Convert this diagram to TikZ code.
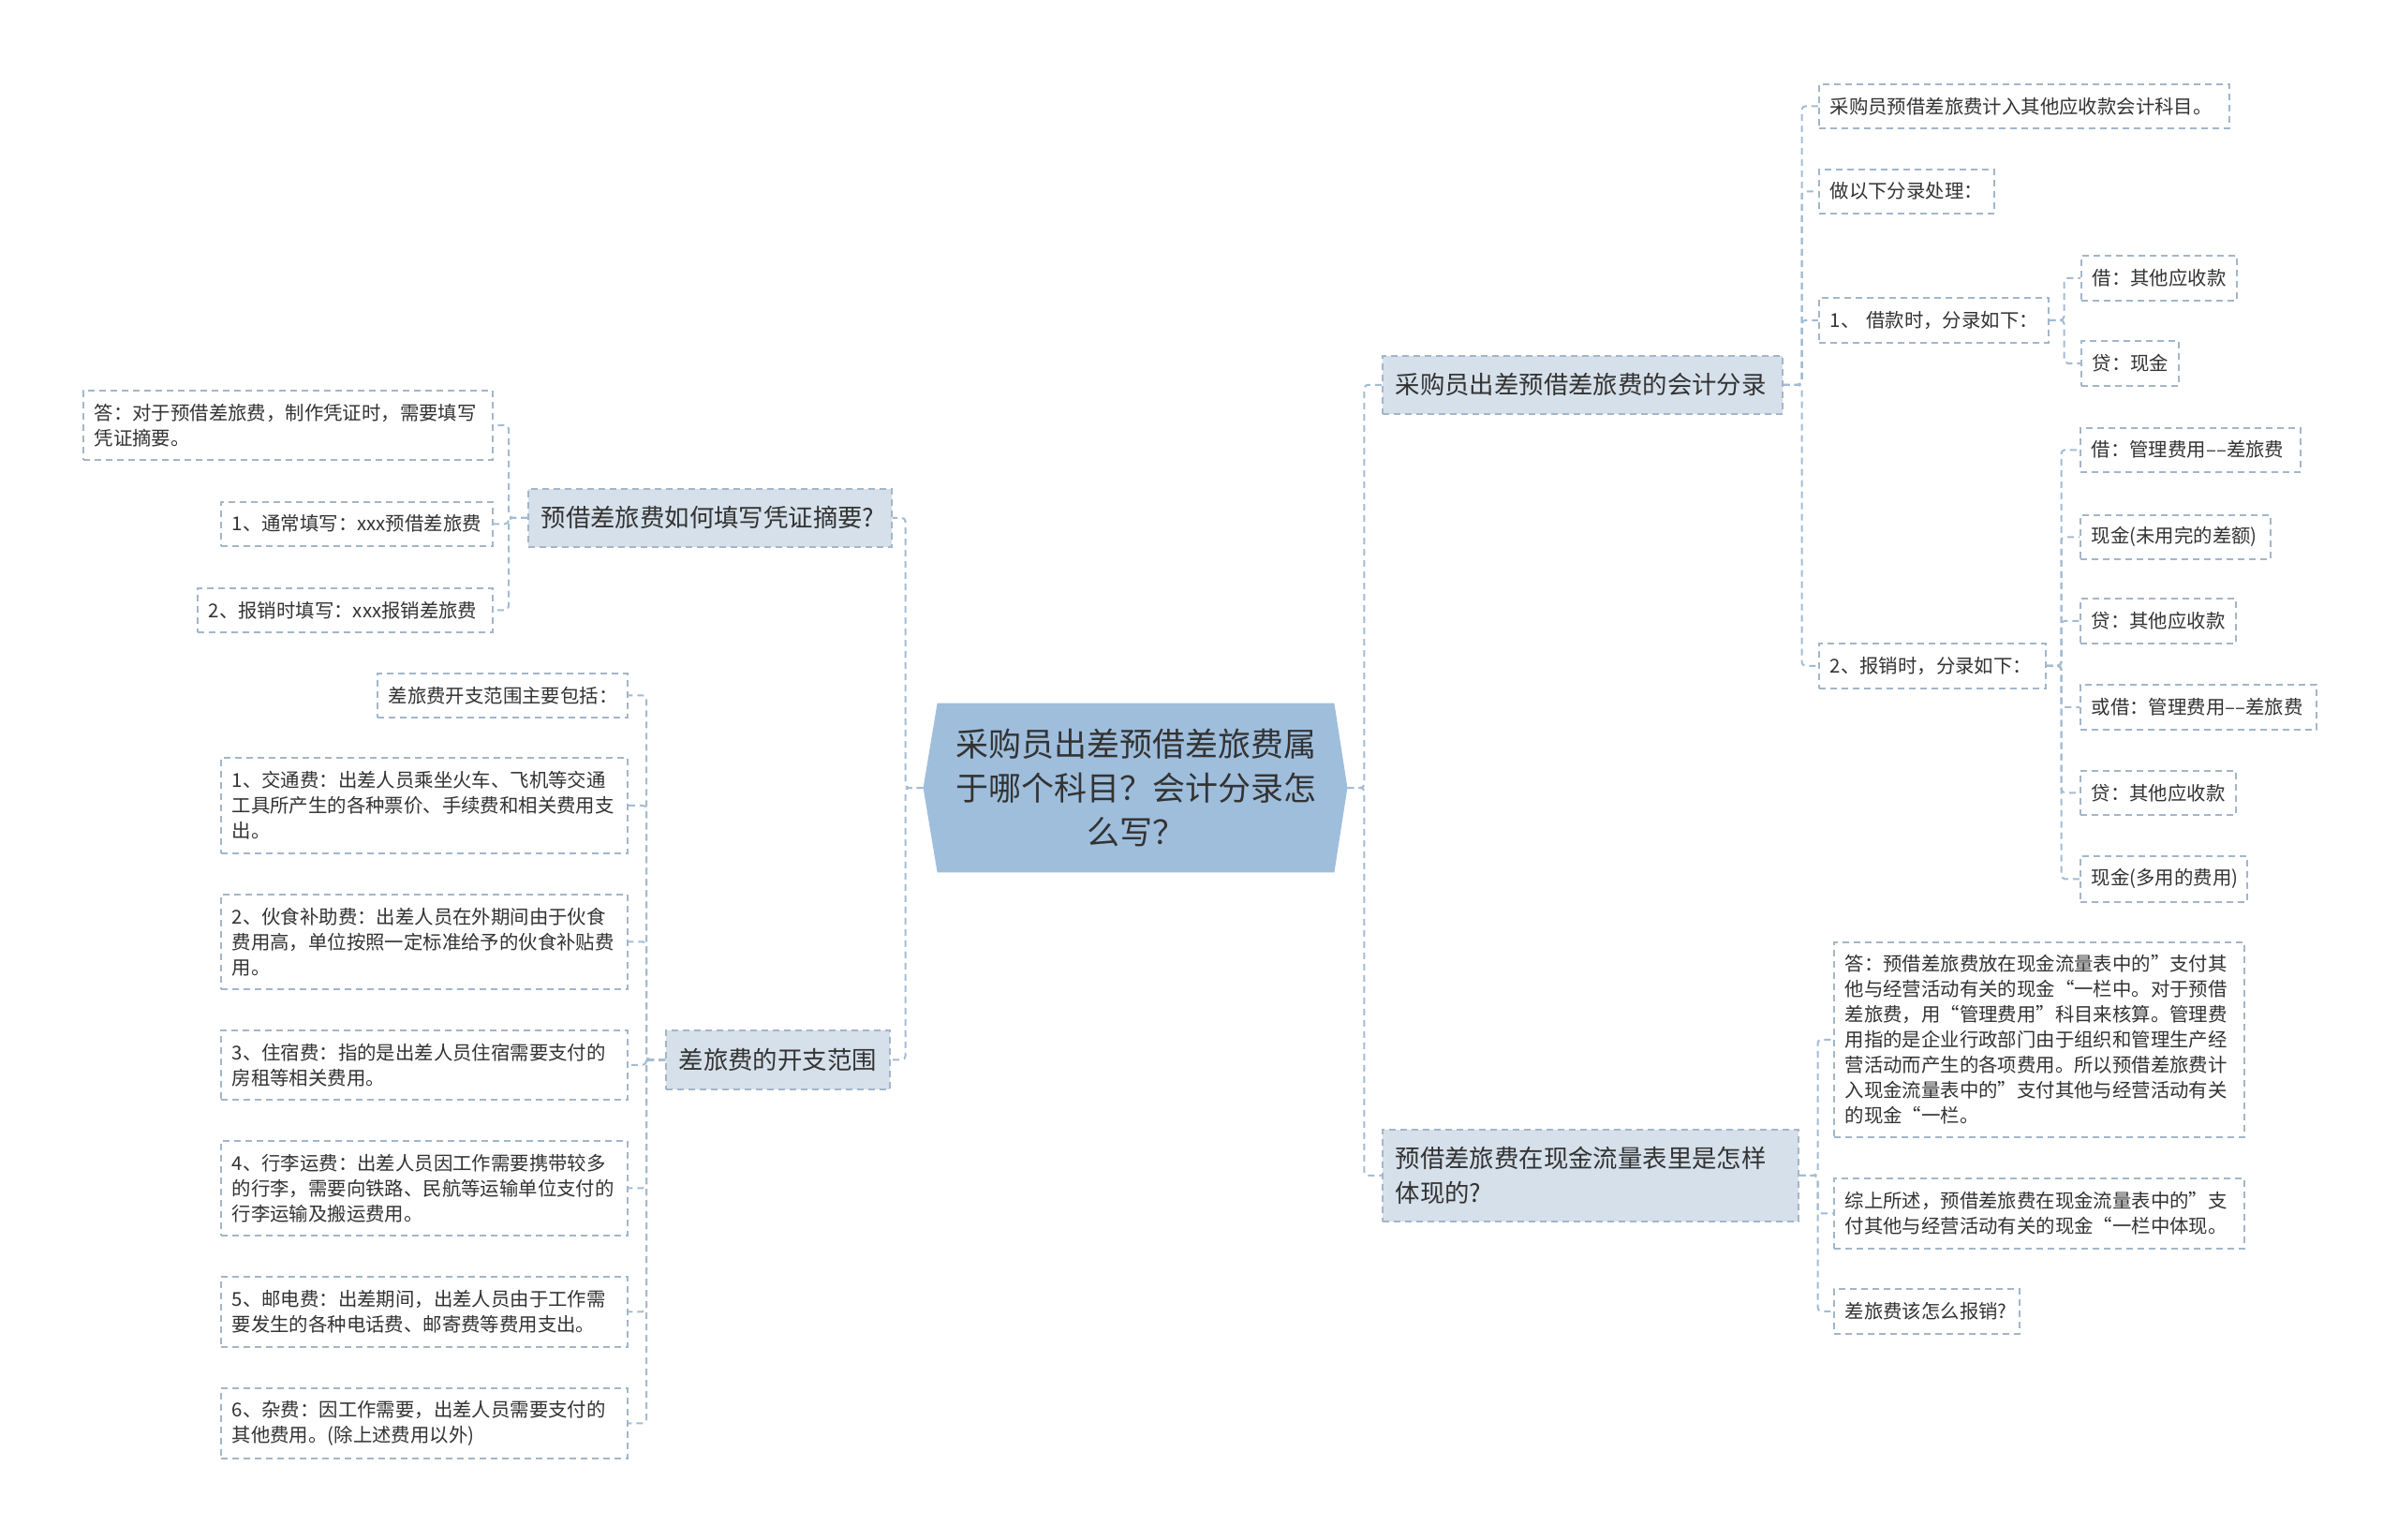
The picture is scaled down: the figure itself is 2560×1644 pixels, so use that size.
\documentclass[tikz,border=0pt]{standalone}
\usepackage{fontspec}
\setmainfont{Noto Sans CJK SC}
\definecolor{txt}{HTML}{333333}
\definecolor{rootfill}{HTML}{9FBEDC}
\definecolor{mainfill}{HTML}{D5E0EA}
\definecolor{boxline}{HTML}{A3B6C8}
\definecolor{linkc}{HTML}{A3BCD3}
\pgfdeclarelayer{bg}
\pgfsetlayers{bg,main}
\tikzset{
  dsh/.style={dash pattern=on 3.5pt off 2.5pt},
  leaf/.style={draw=boxline, dsh, line width=0.75pt, fill=white, text=txt, anchor=north west, align=left, inner xsep=6pt, inner ysep=0pt, font=\fontsize{10.2pt}{13.5pt}\selectfont},
  topic/.style={draw=boxline, dsh, line width=0.75pt, fill=mainfill, text=txt, anchor=north west, align=left, inner xsep=7pt, inner ysep=0pt, font=\fontsize{13.2pt}{18.3pt}\selectfont},
  linkln/.style={draw=linkc, dsh, line width=1pt, rounded corners=2pt},
}
\begin{document}
\begin{tikzpicture}[x=0.5pt,y=-0.5pt]
\begin{pgfonlayer}{bg}
\fill[white] (0,0) rectangle (2560,1644);
\end{pgfonlayer}
\useasboundingbox (0,0) rectangle (2560,1644);

% root
\node[text=txt, align=center, text width=211.5pt, minimum height=90pt, inner sep=0pt, font=\fontsize{17.5pt}{23.3pt}\selectfont] (root) at (1212.5,841) {采购员出差预借差旅费属\\于哪个科目？会计分录怎\\么写？};
\coordinate (rootL) at ([xshift=-7.5pt]root.west);
\coordinate (rootR) at ([xshift=7pt]root.east);
\begin{pgfonlayer}{bg}
\fill[rootfill] (root.north west) -- (root.north east) -- (rootR) -- (root.south east) -- (root.south west) -- (rootL) -- cycle;
\end{pgfonlayer}

% main topics
\node[topic, text width=199.5pt, minimum height=31pt] (M1) at (1475,379) {采购员出差预借差旅费的会计分录};
\node[topic, text width=208pt, minimum height=49pt] (M2) at (1475,1205) {预借差旅费在现金流量表里是怎样\\体现的?};
\node[topic, text width=180pt, minimum height=31pt] (M3) at (563,521) {预借差旅费如何填写凭证摘要?};
\node[topic, text width=105.5pt, minimum height=31.5pt] (M4) at (710,1099) {差旅费的开支范围};

% left group A
\node[leaf, text width=206.5pt, minimum height=37pt] (A1) at (88,416) {答：对于预借差旅费，制作凭证时，需要填写\\凭证摘要。};
\node[leaf, text width=133pt, minimum height=23.5pt] (A2) at (235,535) {1、通常填写：xxx预借差旅费};
\node[leaf, text width=145.5pt, minimum height=23.5pt] (A3) at (210,627) {2、报销时填写：xxx报销差旅费};

% left group B
\node[leaf, text width=121.5pt, minimum height=23.5pt] (B0) at (402,718) {差旅费开支范围主要包括：};
\node[leaf, text width=205pt, minimum height=51pt] (B1) at (235,808) {1、交通费：出差人员乘坐火车、飞机等交通\\工具所产生的各种票价、手续费和相关费用支\\出。};
\node[leaf, text width=205pt, minimum height=50.5pt] (B2) at (235,954) {2、伙食补助费：出差人员在外期间由于伙食\\费用高，单位按照一定标准给予的伙食补贴费\\用。};
\node[leaf, text width=205pt, minimum height=37pt] (B3) at (235,1099) {3、住宿费：指的是出差人员住宿需要支付的\\房租等相关费用。};
\node[leaf, text width=205pt, minimum height=50.5pt] (B4) at (235,1217) {4、行李运费：出差人员因工作需要携带较多\\的行李，需要向铁路、民航等运输单位支付的\\行李运输及搬运费用。};
\node[leaf, text width=205pt, minimum height=37.5pt] (B5) at (235,1362) {5、邮电费：出差期间，出差人员由于工作需\\要发生的各种电话费、邮寄费等费用支出。};
\node[leaf, text width=205pt, minimum height=37.5pt] (B6) at (235,1481) {6、杂费：因工作需要，出差人员需要支付的\\其他费用。(除上述费用以外)};

% right group C
\node[leaf, text width=207pt, minimum height=23.5pt] (C1) at (1941,89) {采购员预借差旅费计入其他应收款会计科目。};
\node[leaf, text width=81.5pt, minimum height=23.5pt] (C2) at (1941,180) {做以下分录处理：};
\node[leaf, text width=110.5pt, minimum height=24pt] (C3) at (1941,317) {1、~借款时，分录如下：};
\node[leaf, text width=109pt, minimum height=24pt] (C4) at (1941,686) {2、报销时，分录如下：};

\node[leaf, text width=71pt, minimum height=24pt] (D1) at (2221,272) {借：其他应收款};
\node[leaf, text width=40pt, minimum height=24pt] (D2) at (2221,363) {贷：现金};

\node[leaf, text width=105.5pt, minimum height=23.5pt] (E1) at (2220,456) {借：管理费用––差旅费};
\node[leaf, text width=89.5pt, minimum height=23.5pt] (E2) at (2220,549) {现金(未用完的差额)};
\node[leaf, text width=71pt, minimum height=24pt] (E3) at (2220,638) {贷：其他应收款};
\node[leaf, text width=114pt, minimum height=24pt] (E4) at (2220,730) {或借：管理费用––差旅费};
\node[leaf, text width=71pt, minimum height=23.5pt] (E5) at (2220,822) {贷：其他应收款};
\node[leaf, text width=77pt, minimum height=24.5pt] (E6) at (2220,913) {现金(多用的费用)};

% right group F
\node[leaf, text width=207pt, minimum height=104pt] (F1) at (1957,1005) {答：预借差旅费放在现金流量表中的”支付其\\他与经营活动有关的现金“一栏中。对于预借\\差旅费，用“管理费用”科目来核算。管理费\\用指的是企业行政部门由于组织和管理生产经\\营活动而产生的各项费用。所以预借差旅费计\\入现金流量表中的”支付其他与经营活动有关\\的现金“一栏。};
\node[leaf, text width=207pt, minimum height=37.5pt] (F2) at (1957,1257) {综上所述，预借差旅费在现金流量表中的”支\\付其他与经营活动有关的现金“一栏中体现。};
\node[leaf, text width=87pt, minimum height=24pt] (F3) at (1957,1375) {差旅费该怎么报销?};

% connectors
\begin{pgfonlayer}{bg}
\draw[linkln] (rootL) -- ++(-19,0) |- (M3.east);
\draw[linkln] (rootL) -- ++(-19,0) |- (M4.east);
\draw[linkln] (rootR) -- ++(18,0) |- (M1.west);
\draw[linkln] (rootR) -- ++(18,0) |- (M2.west);
\foreach \c in {A1,A2,A3} \draw[linkln] (M3.west) -- ++(-20,0) |- (\c.east);
\foreach \c in {B0,B1,B2,B3,B4,B5,B6} \draw[linkln] (M4.west) -- ++(-20,0) |- (\c.east);
\foreach \c in {C1,C2,C3,C4} \draw[linkln] (M1.east) -- ++(20,0) |- (\c.west);
\foreach \c in {D1,D2} \draw[linkln] (C3.east) -- ++(16,0) |- (\c.west);
\foreach \c in {E1,E2,E3,E4,E5,E6} \draw[linkln] (C4.east) -- ++(16,0) |- (\c.west);
\foreach \c in {F1,F2,F3} \draw[linkln] (M2.east) -- ++(20,0) |- (\c.west);
\end{pgfonlayer}
\end{tikzpicture}
\end{document}
